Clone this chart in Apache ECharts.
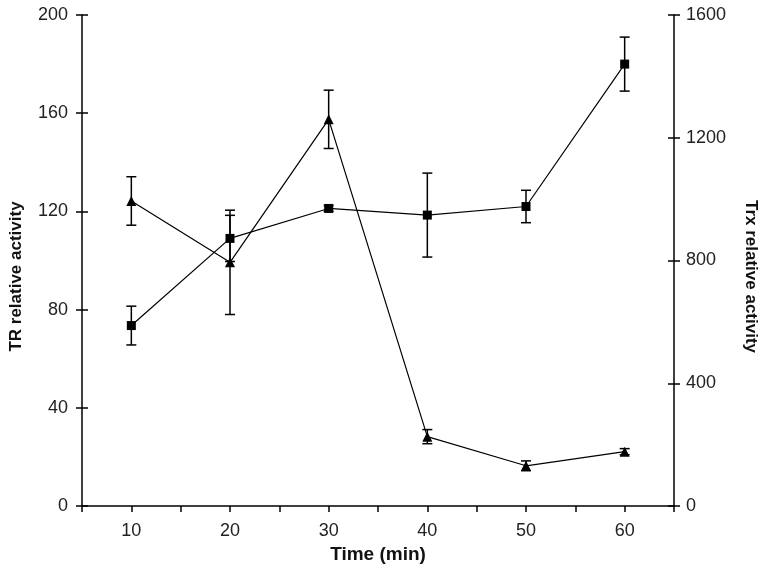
<!DOCTYPE html>
<html><head><meta charset="utf-8">
<script src="https://cdn.jsdelivr.net/npm/echarts@6/dist/echarts.min.js"></script>
<style>html,body{margin:0;padding:0;background:#fff}#c{width:767px;height:574px}</style>
</head><body><div id="c"></div>
<script>
var timePoints = [10, 20, 30, 40, 50, 60];
var trValues = [73.5, 109, 121.2, 118.5, 122, 180];
var trErr = [7.9, 9.4, 1.2, 17.1, 6.6, 11];
var trxValues = [994, 794, 1260, 226, 131, 177];
var trxErr = [79, 170, 95, 23, 16, 10];
var xTicks = [10, 20, 30, 40, 50, 60];
var leftTicks = [0, 40, 80, 120, 160, 200];
var rightTicks = [0, 400, 800, 1200, 1600];

function pairs(vals) { return timePoints.map(function (t, i) { return [t, vals[i]]; }); }
function errData(vals, errs) { return timePoints.map(function (t, i) { return [t, vals[i], errs[i]]; }); }
function errRender(params, api) {
  var x = api.value(0), y = api.value(1), e = api.value(2);
  var top = api.coord([x, y + e]), bot = api.coord([x, y - e]);
  var w = 5;
  var st = { stroke: '#000', lineWidth: 1.5 };
  return { type: 'group', children: [
    { type: 'line', shape: { x1: top[0], y1: top[1], x2: bot[0], y2: bot[1] }, style: st },
    { type: 'line', shape: { x1: top[0] - w, y1: top[1], x2: top[0] + w, y2: top[1] }, style: st },
    { type: 'line', shape: { x1: bot[0] - w, y1: bot[1], x2: bot[0] + w, y2: bot[1] }, style: st }
  ]};
}
var lbl = { color: '#222', fontSize: 18, fontFamily: 'Liberation Sans' };
var nameStyle = { color: '#111', fontSize: 17, fontWeight: 'bold', fontFamily: 'Liberation Sans' };
var axLine = { show: true, lineStyle: { color: '#000', width: 1.5 } };

var chart = echarts.init(document.getElementById('c'));
chart.setOption({
  animation: false,
  backgroundColor: '#fff',
  grid: { left: 77, right: 91, top: 15, bottom: 68 },
  xAxis: {
    type: 'value', min: 5, max: 65, interval: 5,
    axisLine: axLine,
    axisTick: { show: true, length: 6, lineStyle: { color: '#000', width: 1.5 } },
    splitLine: { show: false },
    axisLabel: Object.assign({ margin: 16, formatter: function (v) { return xTicks.indexOf(v) >= 0 ? String(v) : ''; } }, lbl),
    name: 'Time (min)', nameLocation: 'middle', nameGap: 38,
    nameTextStyle: Object.assign({}, nameStyle, { fontSize: 19 })
  },
  yAxis: [
    { type: 'value', position: 'left', min: 0, max: 200, interval: 40,
      axisLine: axLine,
      axisTick: { show: true, length: 6, lineStyle: { color: '#000', width: 1.5 } },
      splitLine: { show: false },
      axisLabel: Object.assign({ margin: 14, formatter: function (v) { return leftTicks.indexOf(v) >= 0 ? String(v) : ''; } }, lbl),
      name: 'TR relative activity', nameLocation: 'middle', nameGap: 57,
      nameTextStyle: Object.assign({}, nameStyle, { padding: [0, 32, 0, 0] }) },
    { type: 'value', position: 'right', min: 0, max: 1600, interval: 400,
      axisLine: axLine,
      axisTick: { show: true, length: 6, lineStyle: { color: '#000', width: 1.5 } },
      splitLine: { show: false },
      axisLabel: Object.assign({ margin: 12, formatter: function (v) { return rightTicks.indexOf(v) >= 0 ? String(v) : ''; } }, lbl),
      name: 'Trx relative activity', nameLocation: 'middle', nameGap: 68, nameRotate: -90,
      nameTextStyle: Object.assign({}, nameStyle, { padding: [0, 0, 0, 32] }) },
    { type: 'value', position: 'left', min: 0, max: 200, interval: 40,
      axisLine: { show: false }, axisLabel: { show: false }, splitLine: { show: false },
      axisTick: { show: true, inside: true, length: 6, lineStyle: { color: '#000', width: 1.5 } } },
    { type: 'value', position: 'right', min: 0, max: 1600, interval: 400,
      axisLine: { show: false }, axisLabel: { show: false }, splitLine: { show: false },
      axisTick: { show: true, inside: true, length: 6, lineStyle: { color: '#000', width: 1.5 } } }
  ],
  series: [
    { type: 'custom', name: 'TR err', yAxisIndex: 0, renderItem: errRender, data: errData(trValues, trErr), z: 3 },
    { type: 'custom', name: 'Trx err', yAxisIndex: 1, renderItem: errRender, data: errData(trxValues, trxErr), z: 3 },
    { type: 'line', name: 'TR', yAxisIndex: 0, data: pairs(trValues), symbol: 'rect', symbolSize: 9,
      lineStyle: { color: '#000', width: 1.2 }, itemStyle: { color: '#000', borderWidth: 0 }, z: 4 },
    { type: 'line', name: 'Trx', yAxisIndex: 1, data: pairs(trxValues), symbol: 'triangle', symbolSize: 10,
      lineStyle: { color: '#000', width: 1.2 }, itemStyle: { color: '#000', borderWidth: 0 }, z: 4 }
  ]
});
</script></body></html>
